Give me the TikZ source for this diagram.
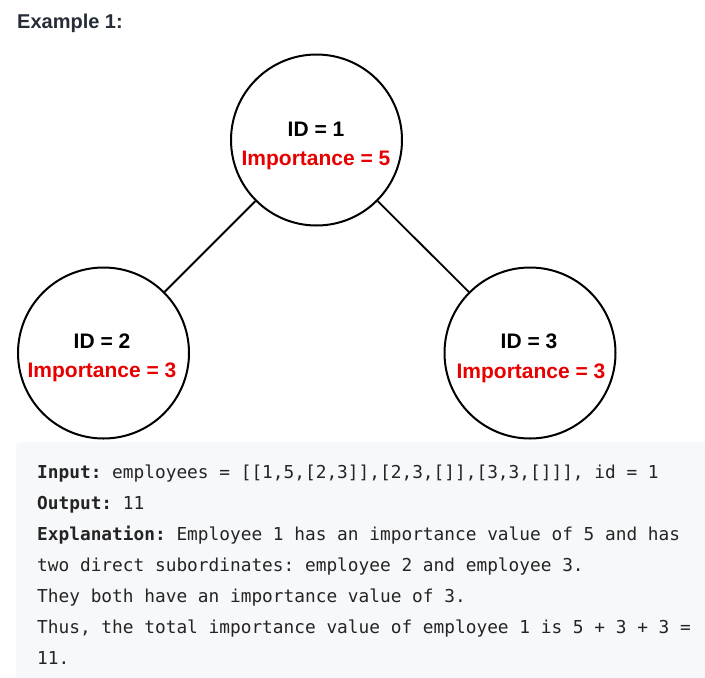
\documentclass[tikz,border=0pt]{standalone}
\usepackage{fontspec}
\setmainfont{Liberation Sans}
\setmonofont{DejaVu Sans Mono}
\definecolor{titleink}{RGB}{38,44,56}
\definecolor{codeink}{RGB}{36,36,36}
\definecolor{codebg}{RGB}{247,248,250}
\definecolor{impred}{RGB}{232,0,0}

\begin{document}
\begin{tikzpicture}[x=1pt, y=-1pt,
    emp/.style={circle, draw, line width=2pt, minimum size=171pt, inner sep=0pt},
    idtext/.style={anchor=base, inner sep=0pt, font=\fontsize{21}{24}\selectfont\bfseries},
    imptext/.style={idtext, text=impred},
    codeline/.style={anchor=base west, inner sep=0pt, text=codeink, font=\fontsize{17.8}{20}\selectfont\ttfamily}]
    \useasboundingbox (0,0) rectangle (705,678);
    \fill[white] (0,0) rectangle (705,678);

    \node[anchor=base west, inner sep=0pt, text=titleink, font=\fontsize{20}{24}\selectfont\bfseries] (title) at (17,28) {Example 1:};

    % employee tree
    \node[emp] (e1) at (316.5,140) {};
    \node[emp] (e2) at (103.5,353) {};
    \node[emp] (e3) at (530,353) {};
    \draw[line width=1.8pt] (e1) -- (e2);
    \draw[line width=1.8pt] (e1) -- (e3);

    \node[idtext] (id1) at (316,136) {ID = 1};
    \node[imptext] (imp1) at (316,165) {Importance = 5};
    \node[idtext] (id2) at (102,348) {ID = 2};
    \node[imptext] (imp2) at (102,377) {Importance = 3};
    \node[idtext] (id3) at (529,348) {ID = 3};
    \node[imptext] (imp3) at (531,378) {Importance = 3};

    % code block
    \fill[codebg, rounded corners=4pt] (16,442) rectangle (712,685);
    \node[codeline] (input) at (37,478) {\textbf{Input:} employees = [[1,5,[2,3]],[2,3,[]],[3,3,[]]], id = 1};
    \node[codeline] (output) at (37,509) {\textbf{Output:} 11};
    \node[codeline] (expl) at (37,540) {\textbf{Explanation:} Employee 1 has an importance value of 5 and has};
    \node[codeline] (expl2) at (37,571) {two direct subordinates: employee 2 and employee 3.};
    \node[codeline] (expl3) at (37,602) {They both have an importance value of 3.};
    \node[codeline] (expl4) at (37,633) {Thus, the total importance value of employee 1 is 5 + 3 + 3 =};
    \node[codeline] (expl5) at (37,664) {11.};
\end{tikzpicture}
\end{document}
